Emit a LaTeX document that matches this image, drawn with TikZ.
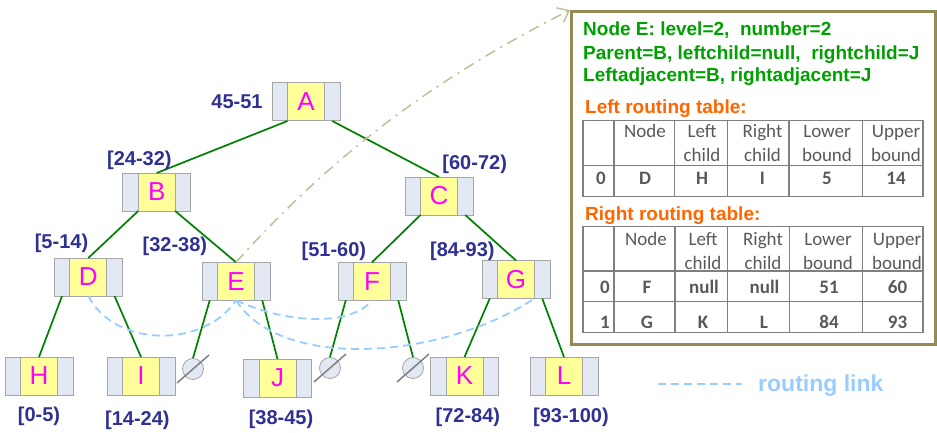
\documentclass[tikz,border=0pt]{standalone}
\usepackage{fontspec}
\setmainfont{Liberation Sans}
\newfontfamily\calibri{Carlito}
\usetikzlibrary{arrows.meta,positioning}

\definecolor{navy}{HTML}{2E3192}
\definecolor{treegreen}{HTML}{008000}
\definecolor{coreyellow}{HTML}{FFFF99}
\definecolor{sideblue}{HTML}{E2E9F4}
\definecolor{boxgray}{HTML}{A6A6A6}
\definecolor{keypink}{HTML}{FF00FF}
\definecolor{routeblue}{HTML}{99CCFF}
\definecolor{khaki}{HTML}{C4BD97}
\definecolor{framecol}{HTML}{948A54}
\definecolor{infogreen}{HTML}{00A000}
\definecolor{titleorange}{HTML}{FF6600}
\definecolor{tabgray}{HTML}{595959}
\definecolor{gridgray}{HTML}{808080}

\begin{document}
\begin{tikzpicture}[x=1pt,y=-1pt,
    core/.style={draw=boxgray,fill=coreyellow,line width=1pt,minimum width=37pt,
      minimum height=38pt,inner sep=0pt,outer sep=0pt,text=keypink,
      font=\fontsize{26}{26}\selectfont},
    side/.style={draw=boxgray,fill=sideblue,line width=1pt,minimum width=15.5pt,
      minimum height=38pt,inner sep=0pt,outer sep=0pt},
    nullchild/.style={circle,draw=boxgray,fill=sideblue,line width=0.8pt,
      minimum size=21pt,inner sep=0pt},
    nullslash/.style={draw=gray,line width=1.5pt},
    branch/.style={draw=treegreen,line width=1.7pt},
    keyrange/.style={text=navy,font=\fontsize{20}{24}\selectfont\bfseries,
      anchor=base,inner sep=0pt},
    route/.style={draw=routeblue,line width=1.8pt,dash pattern=on 8pt off 5pt},
    pointer/.style={draw=khaki,line width=1.5pt,
      dash pattern=on 11pt off 6pt on 2pt off 6pt,
      -{Straight Barb[length=10pt,width=16pt]}},
    infoline/.style={text=infogreen,font=\fontsize{19}{23}\selectfont\bfseries,
      anchor=base west,inner sep=0pt},
    tabtitle/.style={text=titleorange,font=\fontsize{19}{23}\selectfont\bfseries,
      anchor=base west,inner sep=0pt},
    tabhead/.style={text=tabgray,font=\calibri\fontsize{19}{23}\selectfont,
      anchor=base,inner sep=0pt},
    tabcell/.style={tabhead,font=\calibri\bfseries\fontsize{19}{23}\selectfont},
    tabgrid/.style={draw=gridgray,line width=1.5pt}]
  \useasboundingbox (0,0) rectangle (937,433);

  % tree nodes: yellow key part with two pointer slots
  \foreach \n/\x/\y in {A/306/102, B/156.7/192, C/439/196, D/88.3/277,
      E/236/281.3, F/372/281.3, G/516/279.5, H/39/376, I/141/376,
      J/277.5/378, K/464.5/376, L/564/376}
  {
    \node[core] (\n) at (\x,\y) {\n};
    \node[side,left=0pt of \n] (\n-l) {};
    \node[side,right=0pt of \n] (\n-r) {};
  }

  % empty children
  \foreach \n/\x/\y in {E-nl/193/369, F-nl/330/368, F-nr/413/368}
  {
    \node[nullchild] (\n) at (\x,\y) {};
    \draw[nullslash] (\n.center) ++(-16,14) -- ++(32,-28);
  }

  % tree edges
  \draw[branch] (A.south west) -- (B.north);
  \draw[branch] (A-r.south) -- (C.north);
  \draw[branch] (B.south west) -- (D.north);
  \draw[branch] (B.south east) -- (E.north);
  \draw[branch] (C.south west) -- (F.north);
  \draw[branch] (C-r.south) -- (G.north);
  \draw[branch] (D-l.south) -- (H.north);
  \draw[branch] (D-r.south) -- (I.north);
  \draw[branch] (E-l.south) -- (E-nl.north);
  \draw[branch] (E-r.south) -- (J.north);
  \draw[branch] (F-l.south) -- (F-nl.north);
  \draw[branch] (F-r.south) -- (F-nr.north);
  \draw[branch] (G-l.south) -- (K.north);
  \draw[branch] (G-r.south) -- (L.north);

  % key ranges
  \foreach \n/\x/\y/\t in {A/237/109/{45-51}, B/139.4/165/{[24-32)},
      C/474.7/169/{[60-72)}, D/61.5/248.3/{[5-14)}, E/174.9/251.7/{[32-38)},
      F/333.9/256/{[51-60)}, G/462.4/256/{[84-93)}, H/39/421.7/{[0-5)},
      I/137.4/425/{[14-24)}, J/281/424/{[38-45)}, K/467.9/422.3/{[72-84)},
      L/570.9/422.3/{[93-100)}}
    \node[keyrange] (\n-range) at (\x,\y) {\t};

  % routing links of E
  \draw[route] (D.south) .. controls +(27,52) and +(-32,48) .. (E.south);
  \draw[route] (E.south) .. controls +(55,25) and +(-20,25) .. (F.south);
  \draw[route] (E.south) .. controls +(44,70) and +(-94.5,62) .. (G.south east);

  % info box for E
  \node[draw=framecol,line width=3pt,minimum width=364pt,minimum height=333pt,
    inner sep=0pt,anchor=north west] (info) at (570,10) {};
  \draw[pointer] (E.north) .. controls +(100,-111) and +(-134,68) .. (info.north west);
  \node[infoline] (info-1) at (583,36) {Node E: level=2,\ \ number=2};
  \node[infoline] (info-2) at (583,60) {Parent=B, leftchild=null,\ \ rightchild=J};
  \node[infoline] (info-3) at (583,81.7) {Leftadjacent=B, rightadjacent=J};

  % left routing table
  \node[tabtitle] (ltitle) at (585,113.3) {Left routing table:};
  \draw[tabgrid] (583,120.7) rectangle (923,196.7) (583,165.7) -- (923,165.7);
  \foreach \x in {614,674.5,727.5,789,862.5}
    \draw[tabgrid] (\x,120.7) -- (\x,196.7);
  \foreach \x/\t [count=\i] in {645/Node,702/Left,762.5/Right,827/Lower,896/Upper}
    \node[tabhead] (lhead-\i) at (\x,138) {\t};
  \foreach \x/\t [count=\i] in {702/child,762.5/child,827/bound,896/bound}
    \node[tabhead] (lsub-\i) at (\x,161.7) {\t};
  \node[tabcell,anchor=base east] (lrow-0) at (606,184) {0};
  \foreach \x/\t [count=\i] in {645/D,702/H,762.5/I,827/5,896/14}
    \node[tabcell] (lrow-\i) at (\x,184) {\t};

  % right routing table
  \node[tabtitle] (rtitle) at (585,220) {Right routing table:};
  \draw[tabgrid] (583,226.7) rectangle (923,332.3) (583,271) -- (923,271)
    (583,301.7) -- (923,301.7);
  \foreach \x in {614,675,727.7,789.3,862.7}
    \draw[tabgrid] (\x,226.7) -- (\x,332.3);
  \foreach \x/\t [count=\i] in {646/Node,703/Left,763/Right,828/Lower,897/Upper}
    \node[tabhead] (rhead-\i) at (\x,245.7) {\t};
  \foreach \x/\t [count=\i] in {703/child,763/child,828/bound,897/bound}
    \node[tabhead] (rsub-\i) at (\x,269) {\t};
  \node[tabcell,anchor=base east] (rrow-0) at (610,293.3) {0};
  \foreach \x/\t [count=\i] in {647/F,704/null,764.5/null,829/51,897.5/60}
    \node[tabcell] (rrow-\i) at (\x,293.3) {\t};
  \node[tabcell,anchor=base east] (rrow-1) at (610,328.3) {1};
  \foreach \x/\t [count=\i] in {647/G,703/K,764/L,829/84,897.5/93}
    \node[tabcell] (rrowb-\i) at (\x,328.3) {\t};

  % legend
  \coordinate (leg-a) at (658,384);
  \coordinate (leg-b) at (742,384);
  \draw[route,line width=1.5pt] (leg-a) -- (leg-b);
  \node[anchor=base west,inner sep=0pt,text=routeblue,
    font=\fontsize{23}{26}\selectfont\bfseries] (leg-text) at (758,391.7) {routing link};
\end{tikzpicture}
\end{document}
